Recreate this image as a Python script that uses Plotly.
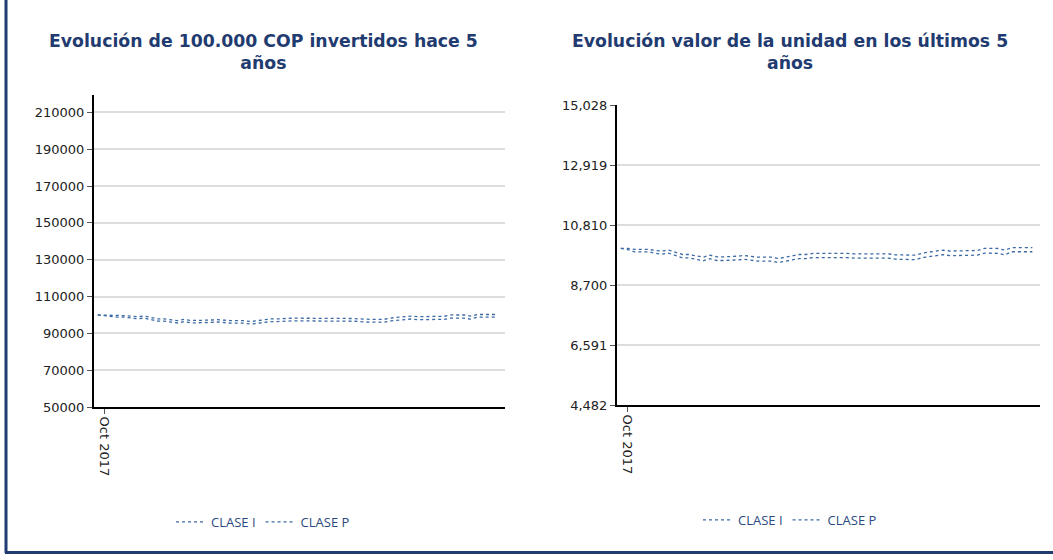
import plotly.graph_objects as go
import pandas as pd

# ---- data (monthly, Sep 2017 - Sep 2022) ----
dates = pd.date_range("2017-09-01", periods=61, freq="MS")

unit_clase_i = [9987, 9987, 9952, 9952, 9952, 9916, 9892, 9928, 9856, 9773, 9773, 9737, 9678, 9749,
                9690, 9690, 9690, 9713, 9737, 9701, 9678, 9678, 9678, 9630, 9678, 9749, 9773, 9773,
                9809, 9809, 9812, 9815, 9809, 9809, 9797, 9800, 9797, 9797, 9794, 9797, 9761, 9749,
                9749, 9749, 9821, 9856, 9904, 9928, 9892, 9892, 9895, 9892, 9916, 9987, 9987, 9984,
                9928, 10011, 10011, 10011, 10011]
unit_clase_p = [9987, 9947, 9867, 9867, 9867, 9816, 9782, 9818, 9740, 9655, 9655, 9615, 9552, 9625,
                9562, 9562, 9560, 9583, 9605, 9568, 9543, 9541, 9540, 9490, 9537, 9607, 9630, 9630,
                9664, 9664, 9666, 9668, 9662, 9661, 9648, 9650, 9646, 9645, 9641, 9644, 9607, 9594,
                9593, 9592, 9663, 9697, 9744, 9767, 9730, 9729, 9731, 9727, 9750, 9820, 9819, 9815,
                9758, 9870, 9870, 9869, 9869]

inv_clase_i = [100000, 100000, 99650, 99650, 99650, 99290, 99050, 99410, 98690, 97860, 97860, 97500,
               96910, 97620, 97030, 97030, 97030, 97260, 97500, 97140, 96910, 96910, 96910, 96430,
               96910, 97620, 97860, 97860, 98220, 98220, 98250, 98280, 98220, 98220, 98100, 98130,
               98100, 98100, 98070, 98100, 97740, 97620, 97620, 97620, 98340, 98690, 99170, 99410,
               99050, 99050, 99080, 99050, 99290, 100000, 100000, 99970, 99410, 100240, 100240,
               100240, 100240]
inv_clase_p = [100000, 99600, 98800, 98800, 98800, 98290, 97950, 98310, 97530, 96680, 96680, 96280,
               95640, 96370, 95750, 95750, 95730, 95960, 96180, 95800, 95550, 95530, 95520, 95020,
               95500, 96200, 96420, 96420, 96770, 96770, 96790, 96810, 96750, 96740, 96610, 96630,
               96590, 96580, 96540, 96570, 96200, 96060, 96050, 96040, 96760, 97100, 97570, 97800,
               97430, 97420, 97440, 97400, 97630, 98330, 98320, 98280, 97710, 98830, 98830, 98820,
               98820]

left_ticks = [50000, 70000, 90000, 110000, 130000, 150000, 170000, 190000, 210000]
right_ticks = [4482, 6591.2, 8700.4, 10809.6, 12918.8, 15028]
right_ticktext = ["4,482", "6,591", "8,700", "10,810", "12,919", "15,028"]
x_tick = ["2017-10-01"]
x_ticktext = ["Oct 2017"]

titles = ["Evolución de 100.000 COP invertidos hace 5<br>años",
          "Evolución valor de la unidad en los últimos 5<br>años"]

LINE = "#3b6aa3"
NAVY = "#1f3b70"
FONT = "DejaVu Sans"

fig = go.Figure()
fig.add_trace(go.Scatter(x=dates, y=inv_clase_i, name="CLASE I", mode="lines",
                         line=dict(color=LINE, width=1.3, dash="dot"), xaxis="x", yaxis="y", legend="legend"))
fig.add_trace(go.Scatter(x=dates, y=inv_clase_p, name="CLASE P", mode="lines",
                         line=dict(color=LINE, width=1.3, dash="dot"), xaxis="x", yaxis="y", legend="legend"))
fig.add_trace(go.Scatter(x=dates, y=unit_clase_i, name="CLASE I", mode="lines",
                         line=dict(color=LINE, width=1.3, dash="dot"), xaxis="x2", yaxis="y2", legend="legend2"))
fig.add_trace(go.Scatter(x=dates, y=unit_clase_p, name="CLASE P", mode="lines",
                         line=dict(color=LINE, width=1.3, dash="dot"), xaxis="x2", yaxis="y2", legend="legend2"))

W, H = 1053, 560
L, R, T, B = 94, 13, 95, 153
pw, ph = W - L - R, H - T - B

def px_x(x):
    return (x - L) / pw

def px_y(y):
    return (H - B - y) / ph

xrange = ["2017-08-15", "2022-10-05"]
common_x = dict(type="date", range=xrange, tickvals=x_tick, ticktext=x_ticktext, tickangle=90,
                showline=True, linecolor="black", linewidth=2, ticks="outside", ticklen=5,
                tickcolor="#555", showgrid=False, zeroline=False,
                tickfont=dict(family=FONT, size=13, color="#222"))
common_y = dict(showline=True, linecolor="black", linewidth=2, ticks="outside", ticklen=5,
                tickcolor="#555", showgrid=True, gridcolor="#dddddd", gridwidth=2, zeroline=False,
                tickfont=dict(family=FONT, size=13, color="#222"))

fig.update_layout(
    width=W, height=H,
    margin=dict(l=L, r=R, t=T, b=B),
    plot_bgcolor="white", paper_bgcolor="white",
    xaxis=dict(domain=[0, px_x(505)], anchor="y", **common_x),
    yaxis=dict(domain=[0, 1], anchor="x", range=[50000, 219500], tickvals=left_ticks,
               tickformat="d", **common_y),
    xaxis2=dict(domain=[px_x(617), 1], anchor="y2", **common_x),
    yaxis2=dict(domain=[px_y(405), px_y(105)], anchor="x2", range=[4482, 15028],
                tickvals=right_ticks, ticktext=right_ticktext, **common_y),
    legend=dict(orientation="h", x=px_x(263), xanchor="center", y=px_y(522), yanchor="middle",
                font=dict(family="Open Sans", size=13, color="#2a4a80"), bgcolor="rgba(0,0,0,0)"),
    legend2=dict(orientation="h", x=px_x(790), xanchor="center", y=px_y(520), yanchor="middle",
                 font=dict(family="Open Sans", size=13, color="#2a4a80"), bgcolor="rgba(0,0,0,0)"),
    showlegend=True,
)

for cx, t in zip([263, 790], titles):
    fig.add_annotation(text="<b>" + t + "</b>", x=px_x(cx), y=px_y(52), xref="paper", yref="paper",
                       xanchor="center", yanchor="middle", showarrow=False, align="center",
                       font=dict(family=FONT, size=17.3, color=NAVY))

# frame lines (left and bottom)
fig.add_shape(type="line", xref="paper", yref="paper", x0=px_x(6), x1=px_x(6), y0=px_y(0), y1=px_y(553),
              line=dict(color=NAVY, width=3))
fig.add_shape(type="line", xref="paper", yref="paper", x0=px_x(5), x1=px_x(1053), y0=px_y(552.5), y1=px_y(552.5),
              line=dict(color=NAVY, width=3))

fig.write_html("out.html", config={"displayModeBar": False},
               post_script="document.body.style.margin='0';document.body.style.padding='0';"
                           "document.body.style.overflow='hidden';")
